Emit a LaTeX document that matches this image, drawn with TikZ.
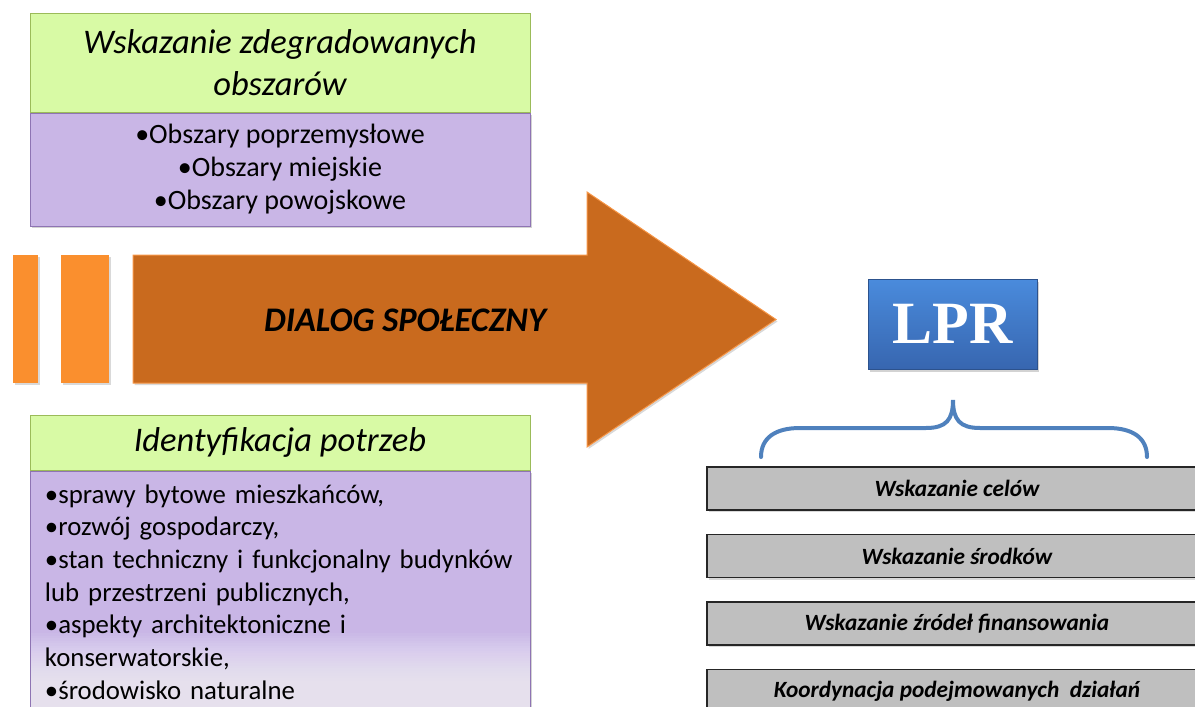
\documentclass[tikz,border=0pt]{standalone}
\usepackage{fontspec}
\setmainfont{Carlito}
\newfontfamily\lprfont{Liberation Serif}
\usetikzlibrary{positioning,shadows}

\definecolor{headgreen}{HTML}{D8FAA5}
\definecolor{headgreenline}{HTML}{9BBB59}
\definecolor{bodyviolet}{HTML}{C9B6E6}
\definecolor{bodyvioletline}{HTML}{8E74B3}
\definecolor{barorange}{HTML}{FA8F2E}
\definecolor{arroworange}{HTML}{C96A1E}
\definecolor{arrowline}{HTML}{F79646}
\definecolor{lprtop}{HTML}{4A8BDC}
\definecolor{lprbottom}{HTML}{3766B0}
\definecolor{bracecol}{HTML}{4F81BD}
\definecolor{taskgray}{HTML}{BFBFBF}

\begin{document}
\begin{tikzpicture}[x=1pt,y=-1pt,inner sep=0pt,node distance=23pt]
  \tikzstyle{header}=[draw=headgreenline,fill=headgreen,line width=1pt,
                      minimum width=500pt,align=center,
                      font=\itshape\fontsize{34.5}{42}\selectfont]
  \tikzstyle{listbox}=[draw=bodyvioletline,fill=bodyviolet,line width=1pt,
                       minimum width=500pt,
                       drop shadow={shadow xshift=1.5pt,shadow yshift=-2pt,opacity=0.35}]
  \tikzstyle{bar}=[fill=barorange,minimum height=128pt,
                   drop shadow={shadow xshift=1.5pt,shadow yshift=-2pt,opacity=0.3}]
  \tikzstyle{task}=[draw=black!85,line width=1.5pt,fill=taskgray,
                    minimum width=500pt,minimum height=43pt,
                    font=\bfseries\itshape\fontsize{23.3}{26}\selectfont,
                    drop shadow={shadow xshift=1.5pt,shadow yshift=-2pt,opacity=0.3}]

  \useasboundingbox (0,0) rectangle (1195,707);

  % areas
  \node[header,minimum height=99pt] (areahead) at (280,62.5)
       {Wskazanie zdegradowanych\\obszarów};
  \node[listbox,minimum height=113pt,align=center,
        font=\fontsize{28}{33}\selectfont] (areabody) [below=0pt of areahead]
       {•Obszary poprzemysłowe\\•Obszary miejskie\\•Obszary powojskowe};

  % bars and arrow
  \node[bar,minimum width=25pt] (bar1) at (25.5,319) {};
  \node[bar,minimum width=48pt] (bar2) at (85,319) {};
  \draw[fill=arroworange,draw=arrowline,line width=1pt,
        drop shadow={shadow xshift=1.5pt,shadow yshift=-2pt,opacity=0.3}]
    (133,255) -- (587,255) -- (587,192) -- (776,319.5) -- (587,447)
    -- (587,383) -- (133,383) -- cycle;
  \node[font=\bfseries\itshape\fontsize{34.5}{36}\selectfont] (dialog) at (405,320)
       {DIALOG SPOŁECZNY};

  % needs
  \node[header,minimum height=55pt] (needhead) at (280,442.5) {Identyfikacja potrzeb};
  \node[listbox,minimum height=242pt,text width=470pt,align=left,
        font=\fontsize{26.8}{32.7}\selectfont,
        path picture={\foreach \k in {0,...,19}
          \fill[white,opacity=0.055] (path picture bounding box.south west)
            rectangle ([yshift={80pt-\k*2.5pt}]path picture bounding box.south east);}]
       (needbody) [below=0pt of needhead]
       {•sprawy bytowe mieszkańców,\\
        •rozwój gospodarczy,\\
        •stan techniczny i funkcjonalny budynków\\
        lub przestrzeni publicznych,\\
        •aspekty architektoniczne i\\
        konserwatorskie,\\
        •środowisko naturalne};

  % LPR
  \node[draw=lprbottom!80!black,top color=lprtop,bottom color=lprbottom,
        minimum width=169pt,minimum height=90pt,text=white,
        font=\lprfont\bfseries\fontsize{60}{60}\selectfont,
        drop shadow={shadow xshift=2pt,shadow yshift=-3pt,opacity=0.35}]
       (lpr) at (952.5,324) {LPR};

  \draw[bracecol,line width=4pt,line cap=round]
    (761,457) .. controls (761,438) and (775,428) .. (800,428) -- (926,428)
    .. controls (946,428) and (953,420) .. (953,400)
    .. controls (953,420) and (960,428) .. (980,428) -- (1108,428)
    .. controls (1133,428) and (1147,438) .. (1147,457);

  % tasks
  \node[task] (cele) at (957,488.5) {Wskazanie celów};
  \node[task] (srodki) [below=of cele] {Wskazanie środków};
  \node[task] (zrodla) [below=of srodki] {Wskazanie źródeł finansowania};
  \node[task] (koord) [below=of zrodla] {Koordynacja podejmowanych\ \ działań};
\end{tikzpicture}
\end{document}
